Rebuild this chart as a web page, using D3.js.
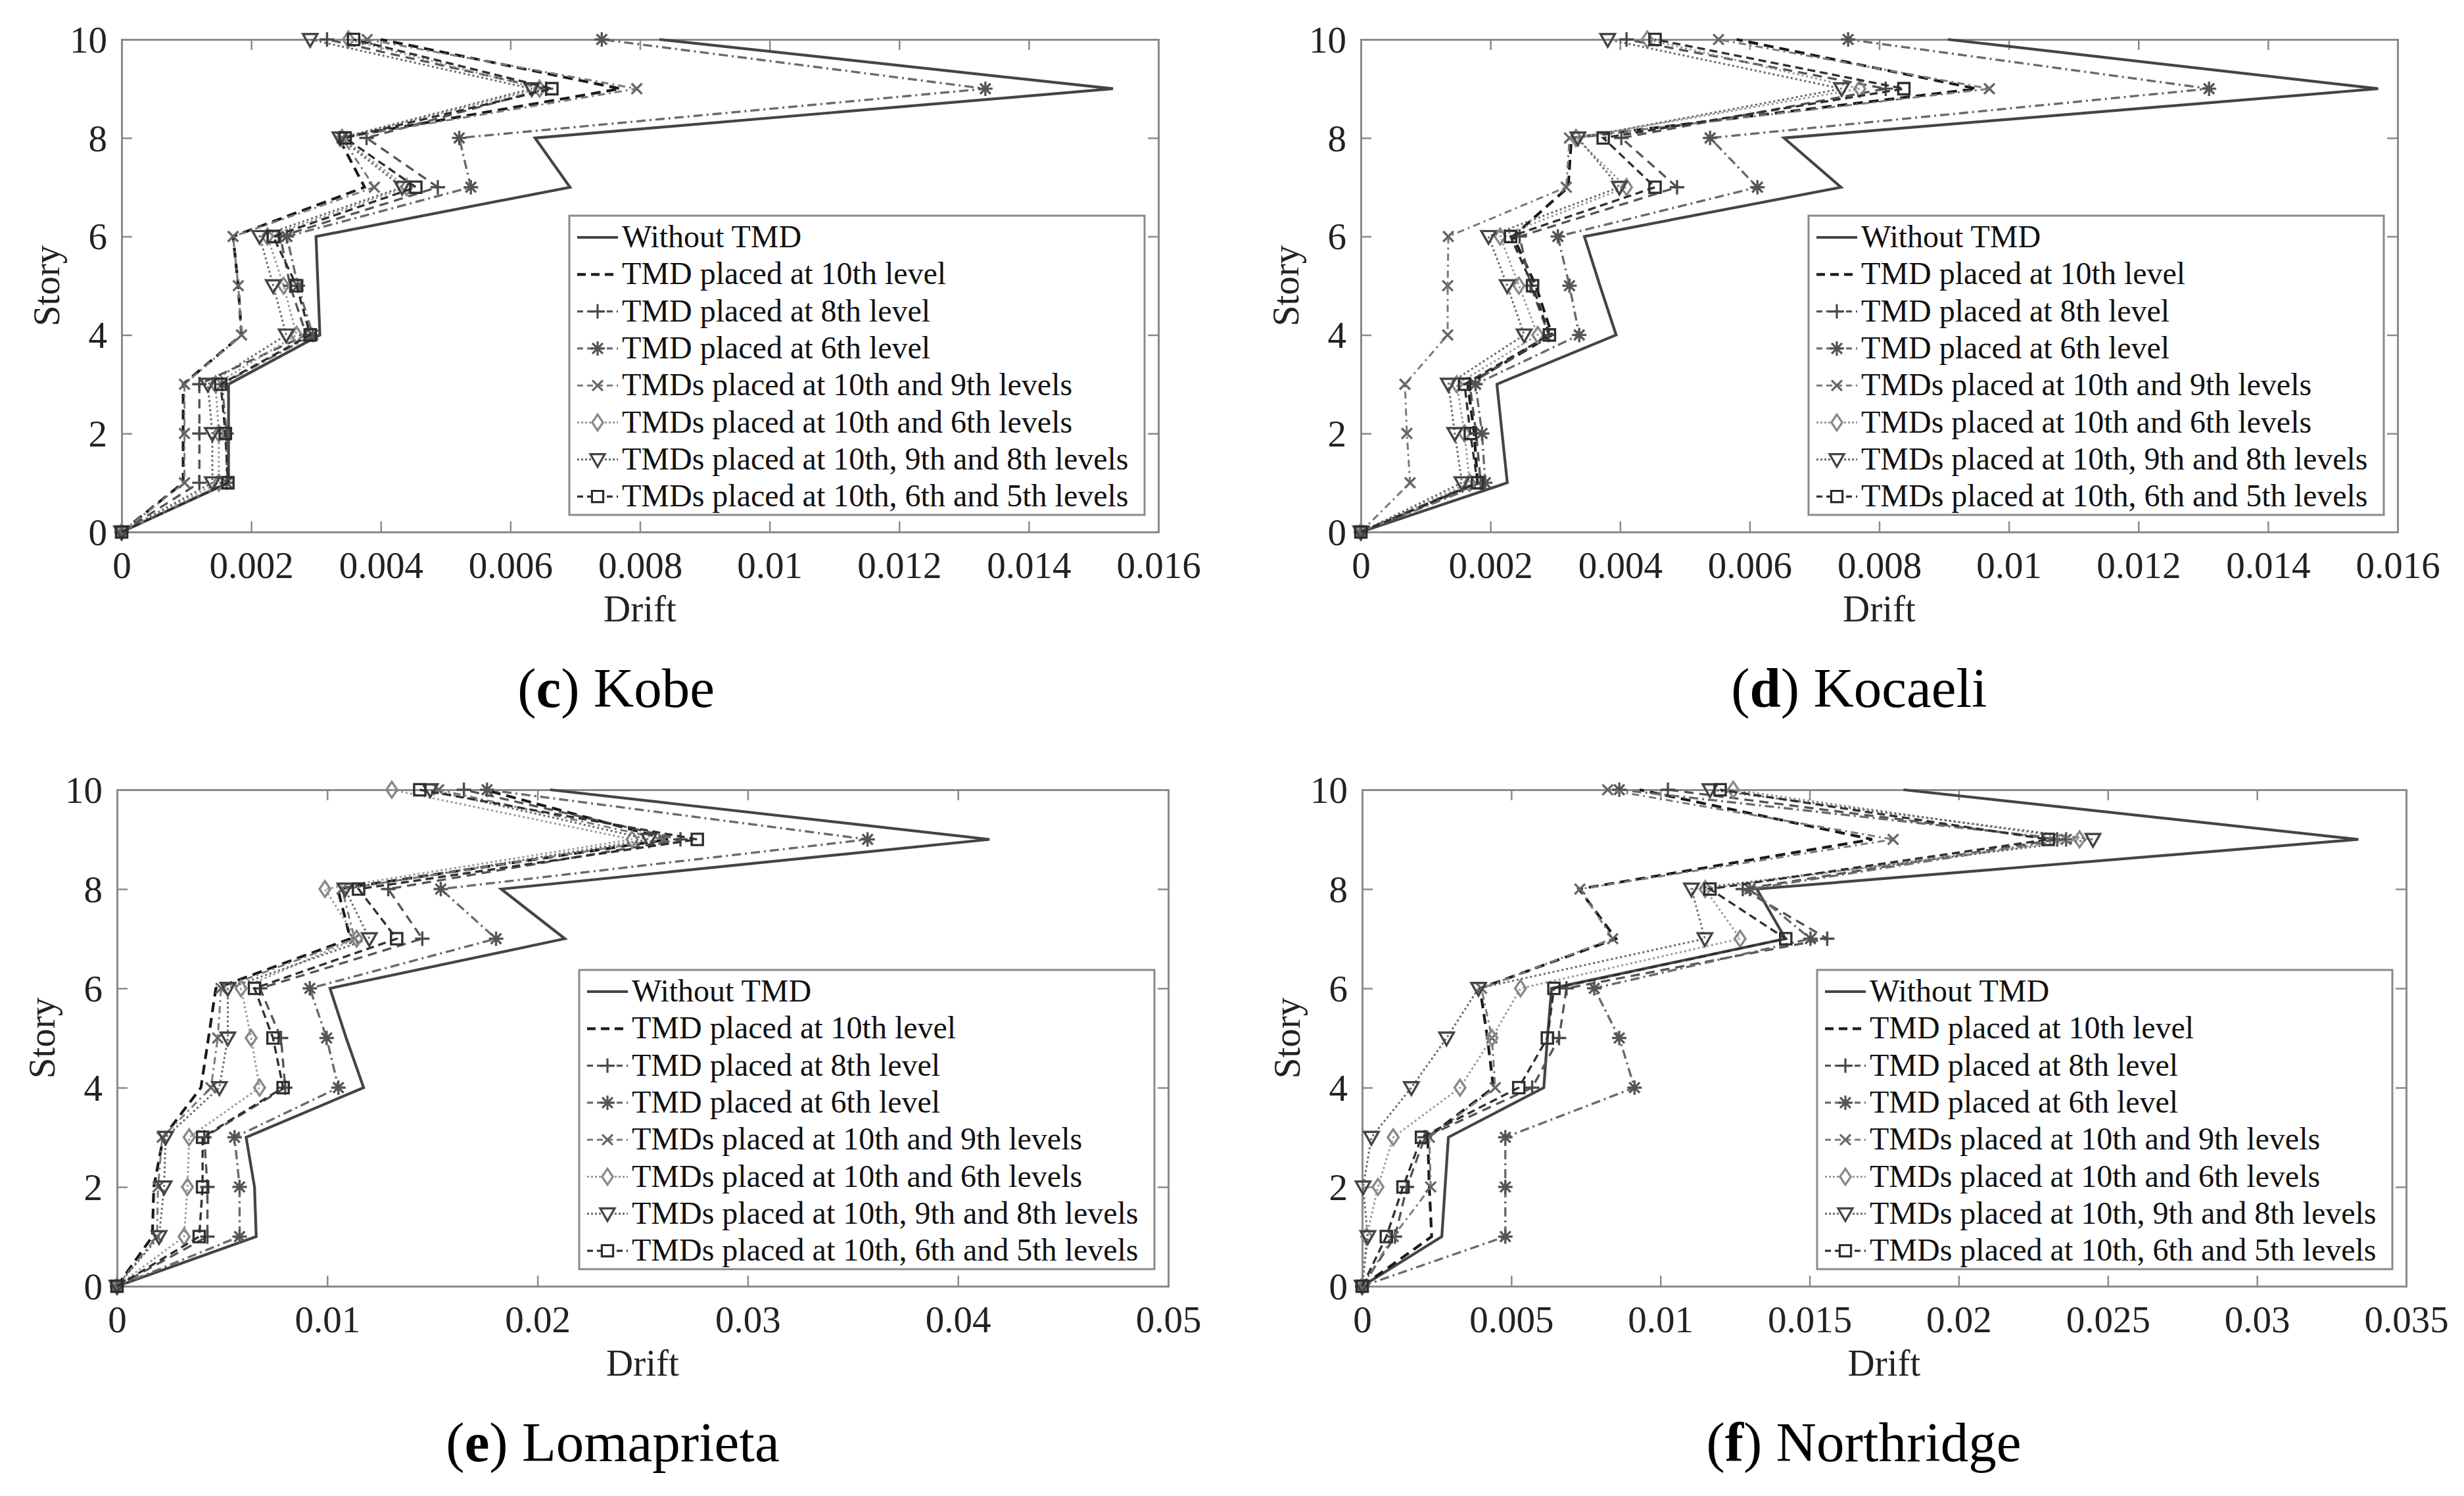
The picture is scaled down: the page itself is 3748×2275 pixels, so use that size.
<!DOCTYPE html>
<html><head><meta charset="utf-8">
<script src="https://cdn.jsdelivr.net/npm/d3@7"></script>
<style>body{margin:0;background:#fff}svg{display:block}</style>
</head><body>
<svg id="chart" width="3748" height="2275"></svg>
<script>
// ---------------- DATA ----------------
const stories = [0,1,2,3,4,5,6,7,8,9,10];
const storyTicks = [0,2,4,6,8,10];
const legendLabels = [
  "Without TMD",
  "TMD placed at 10th level",
  "TMD placed at 8th level",
  "TMD placed at 6th level",
  "TMDs placed at 10th and 9th levels",
  "TMDs placed at 10th and 6th levels",
  "TMDs placed at 10th, 9th and 8th levels",
  "TMDs placed at 10th, 6th and 5th levels"
];
// (c) Kobe
const kobeNone    = [0,0.00165,0.00165,0.00165,0.00306,0.00303,0.0030,0.00692,0.00638,0.0153,0.0083];
const kobeT10     = [0,0.00095,0.00095,0.00095,0.00185,0.0018,0.00172,0.00375,0.00335,0.0077,0.0040];
const kobeT8      = [0,0.0012,0.0012,0.0012,0.00285,0.0026,0.00245,0.00488,0.00378,0.00655,0.00317];
const kobeT6      = [0,0.00162,0.00162,0.00155,0.00295,0.00272,0.00255,0.00539,0.00521,0.01333,0.00741];
const kobeT10_9   = [0,0.00097,0.00097,0.00097,0.00185,0.0018,0.00172,0.0039,0.0034,0.00795,0.00379];
const kobeT10_6   = [0,0.0015,0.0015,0.00145,0.0027,0.0025,0.00225,0.0044,0.0034,0.00645,0.0035];
const kobeT10_9_8 = [0,0.0014,0.0014,0.00133,0.00254,0.00234,0.00213,0.00433,0.00337,0.00633,0.00291];
const kobeT10_6_5 = [0,0.00164,0.0016,0.00153,0.00291,0.0027,0.00234,0.00454,0.00345,0.00664,0.00358];
// (d) Kocaeli
const kocNone    = [0,0.00226,0.00218,0.0021,0.00394,0.00369,0.00345,0.00741,0.00653,0.0157,0.00906];
const kocT10     = [0,0.0018,0.00175,0.00165,0.00295,0.0027,0.00235,0.0032,0.00325,0.0095,0.0058];
const kocT8      = [0,0.00185,0.00178,0.00168,0.0029,0.00262,0.00245,0.00488,0.00402,0.0081,0.0041];
const kocT6      = [0,0.00192,0.00187,0.00177,0.00337,0.00322,0.00304,0.00612,0.00539,0.01309,0.00752];
const kocT10_9   = [0,0.00076,0.00071,0.00068,0.00134,0.00134,0.00135,0.00317,0.00322,0.0097,0.00552];
const kocT10_6   = [0,0.00168,0.0016,0.00148,0.00273,0.00244,0.00215,0.0041,0.00332,0.0077,0.00442];
const kocT10_9_8 = [0,0.00156,0.00145,0.00135,0.00252,0.00226,0.00197,0.00399,0.00335,0.00742,0.00381];
const kocT10_6_5 = [0,0.0018,0.00169,0.0016,0.00291,0.00265,0.00231,0.00454,0.00374,0.00838,0.00454];
// (e) Lomaprieta
const lomNone    = [0,0.00662,0.00654,0.00614,0.01173,0.0109,0.01013,0.0213,0.01827,0.0415,0.0206];
const lomT10     = [0,0.00168,0.00175,0.0022,0.00399,0.00435,0.0047,0.0111,0.0105,0.0262,0.0175];
const lomT8      = [0,0.0043,0.0043,0.00415,0.008,0.0078,0.0068,0.01452,0.0129,0.0268,0.0165];
const lomT6      = [0,0.00583,0.00583,0.00559,0.01053,0.00997,0.00917,0.01803,0.0154,0.0357,0.0176];
const lomT10_9   = [0,0.0019,0.00195,0.00215,0.00447,0.00479,0.00495,0.0113,0.0107,0.026,0.0153];
const lomT10_6   = [0,0.00319,0.00335,0.00343,0.00678,0.00638,0.0059,0.0114,0.00989,0.0245,0.01307];
const lomT10_9_8 = [0,0.002,0.00224,0.00231,0.00487,0.00527,0.00527,0.012,0.01085,0.0253,0.0149];
const lomT10_6_5 = [0,0.00391,0.00407,0.00407,0.0079,0.00742,0.00654,0.0133,0.01149,0.0276,0.0144];
// (f) Northridge
const norNone    = [0,0.00267,0.00278,0.00289,0.00609,0.00621,0.00635,0.01419,0.01323,0.0334,0.01815];
const norT10     = [0,0.00233,0.00225,0.0022,0.0044,0.0042,0.00395,0.00851,0.00727,0.0171,0.0093];
const norT8      = [0,0.0011,0.0015,0.0021,0.0057,0.0066,0.00685,0.01559,0.01276,0.0233,0.01025];
const norT6      = [0,0.0048,0.0048,0.0048,0.00913,0.00862,0.00778,0.01503,0.0130,0.0236,0.00862];
const norT10_9   = [0,0.00104,0.0023,0.00225,0.00446,0.00435,0.004,0.0084,0.0073,0.0178,0.00823];
const norT10_6   = [0,0.00015,0.00053,0.00104,0.00328,0.00435,0.00531,0.01267,0.0115,0.02405,0.01244];
const norT10_9_8 = [0,0.00019,0.00003,0.00031,0.00165,0.00283,0.0039,0.01149,0.01104,0.0245,0.01166];
const norT10_6_5 = [0,0.00081,0.00137,0.00199,0.00525,0.00621,0.00643,0.0142,0.01166,0.023,0.012];
// tick values
const ticksSmall = [0,0.002,0.004,0.006,0.008,0.01,0.012,0.014,0.016];
const ticksLoma  = [0,0.01,0.02,0.03,0.04,0.05];
const ticksNorth = [0,0.005,0.01,0.015,0.02,0.025,0.03,0.035];

// ---------------- LAYOUT / STYLE ----------------
const panels = [
  {letter:"c", name:"Kobe", series:[kobeNone,kobeT10,kobeT8,kobeT6,kobeT10_9,kobeT10_6,kobeT10_9_8,kobeT10_6_5],
   ticks:ticksSmall, box:{l:185,r:1762,t:60,b:809}, capX:937},
  {letter:"d", name:"Kocaeli", series:[kocNone,kocT10,kocT8,kocT6,kocT10_9,kocT10_6,kocT10_9_8,kocT10_6_5],
   ticks:ticksSmall, box:{l:2070,r:3647,t:60,b:809}, capX:2828},
  {letter:"e", name:"Lomaprieta", series:[lomNone,lomT10,lomT8,lomT6,lomT10_9,lomT10_6,lomT10_9_8,lomT10_6_5],
   ticks:ticksLoma, box:{l:178,r:1777,t:1201,b:1956}, capX:932},
  {letter:"f", name:"Northridge", series:[norNone,norT10,norT8,norT6,norT10_9,norT10_6,norT10_9_8,norT10_6_5],
   ticks:ticksNorth, box:{l:2072,r:3660,t:1201,b:1956}, capX:2835}
];
const styles = [
  {stroke:"#444444", w:4.2, dash:null, marker:null},
  {stroke:"#1a1a1a", w:4.2, dash:"15,9", marker:null},
  {stroke:"#555555", w:3.4, dash:"14,9", marker:"plus", mcol:"#4a4a4a"},
  {stroke:"#6a6a6a", w:3.4, dash:"14,6,3,6", marker:"star", mcol:"#555"},
  {stroke:"#7a7a7a", w:3, dash:"11,6,3,6", marker:"cross", mcol:"#666"},
  {stroke:"#9a9a9a", w:3, dash:"3,4", marker:"diamond", mcol:"#888"},
  {stroke:"#686868", w:3, dash:"3,4", marker:"tri", mcol:"#444"},
  {stroke:"#303030", w:3.4, dash:"12,7", marker:"square", mcol:"#2e2e2e"}
];
const FONT = "'Liberation Serif','Times New Roman',serif";
const AXIS = "#8a8a8a";

function markerPath(type){
  const r = 11;
  switch(type){
    case "plus": return `M${-r},0H${r}M0,${-r}V${r}`;
    case "cross": {const a=r*0.72; return `M${-a},${-a}L${a},${a}M${-a},${a}L${a},${-a}`;}
    case "star": {const a=r*0.72; return `M${-r},0H${r}M0,${-r}V${r}M${-a},${-a}L${a},${a}M${-a},${a}L${a},${-a}`;}
    case "diamond": return `M0,${-r*1.1}L${r*0.75},0L0,${r*1.1}L${-r*0.75},0Z`;
    case "tri": return `M${-r},${-r*0.75}L${r},${-r*0.75}L0,${r}Z`;
    case "square": {const a=r*0.78; return `M${-a},${-a}H${a}V${a}H${-a}Z`;}
  }
  return "";
}
const fmt = v => String(+v.toFixed(4));

const svg = d3.select("#chart");
svg.append("rect").attr("width",3748).attr("height",2275).attr("fill","#fff");

panels.forEach(p => {
  const B = p.box;
  const x = d3.scaleLinear().domain([p.ticks[0], p.ticks[p.ticks.length-1]]).range([B.l,B.r]);
  const y = d3.scaleLinear().domain([0,10]).range([B.b,B.t]);
  const g = svg.append("g");
  const TL = 16;

  const axB = g.append("g").attr("transform",`translate(0,${B.b})`)
    .call(d3.axisBottom(x).tickValues(p.ticks).tickFormat(fmt).tickSize(-TL).tickPadding(30));
  const axT = g.append("g").attr("transform",`translate(0,${B.t})`)
    .call(d3.axisTop(x).tickValues(p.ticks).tickFormat("").tickSize(-TL));
  const axL = g.append("g").attr("transform",`translate(${B.l},0)`)
    .call(d3.axisLeft(y).tickValues(storyTicks).tickFormat(d3.format("d")).tickSize(-TL).tickPadding(22));
  const axR = g.append("g").attr("transform",`translate(${B.r},0)`)
    .call(d3.axisRight(y).tickValues(storyTicks).tickFormat("").tickSize(-TL));
  [axB,axT,axL,axR].forEach(a=>{
    a.selectAll("path.domain").attr("stroke",AXIS).attr("stroke-width",3);
    a.selectAll(".tick line").attr("stroke",AXIS).attr("stroke-width",2.5);
    a.selectAll(".tick text").attr("font-family",FONT).attr("font-size",57).attr("fill","#222");
  });
  axB.selectAll(".tick text").attr("dy","0.71em");
  axL.selectAll(".tick text").attr("dy","0.34em");

  const line = d3.line().x(d=>x(d[0])).y(d=>y(d[1]));
  p.series.forEach((vals,i) => {
    const st = styles[i];
    const pts = vals.map((v,k)=>[v,stories[k]]);
    g.append("path").attr("d",line(pts)).attr("fill","none")
      .attr("stroke",st.stroke).attr("stroke-width",st.w)
      .attr("stroke-dasharray",st.dash).attr("stroke-linejoin","miter");
    if(st.marker){
      g.append("g").selectAll("path").data(pts).join("path")
        .attr("transform",d=>`translate(${x(d[0])},${y(d[1])})`)
        .attr("d",markerPath(st.marker)).attr("fill","none")
        .attr("stroke",st.mcol).attr("stroke-width",3.4);
    }
  });

  const LW = 875, LH = 455;
  const lx = B.r - 21 - LW, ly = B.b - 26 - LH;
  const lg = g.append("g").attr("transform",`translate(${lx},${ly})`);
  lg.append("rect").attr("width",LW).attr("height",LH).attr("fill","#fff")
    .attr("stroke",AXIS).attr("stroke-width",3);
  legendLabels.forEach((lab,i)=>{
    const st = styles[i];
    const cy = 33 + i*56.3;
    lg.append("line").attr("x1",12).attr("x2",74).attr("y1",cy).attr("y2",cy)
      .attr("stroke",st.stroke).attr("stroke-width",st.w)
      .attr("stroke-dasharray", i===1 ? "13,8" : (st.dash ? (i>=5&&i<=6 ? "3,3" : "9,6") : null));
    if(st.marker){
      lg.append("path").attr("transform",`translate(43,${cy})`).attr("d",markerPath(st.marker))
        .attr("fill","#fff").attr("stroke",st.mcol).attr("stroke-width",3.2);
    }
    lg.append("text").attr("x",80).attr("y",cy+15).text(lab)
      .attr("font-family",FONT).attr("font-size",48).attr("fill","#111");
  });

  g.append("text").attr("x",(B.l+B.r)/2).attr("y",B.b+136).attr("text-anchor","middle")
    .attr("font-family",FONT).attr("font-size",57).attr("fill","#222").text("Drift");
  g.append("text").attr("transform",`translate(${B.l-95},${(B.t+B.b)/2}) rotate(-90)`)
    .attr("text-anchor","middle").attr("font-family",FONT).attr("font-size",57).attr("fill","#222").text("Story");

  const cap = g.append("text").attr("x",p.capX).attr("y",B.b+266).attr("text-anchor","middle")
    .attr("font-family",FONT).attr("font-size",85).attr("fill","#000");
  cap.append("tspan").text("(");
  cap.append("tspan").attr("font-weight","bold").text(p.letter);
  cap.append("tspan").text(") " + p.name);
});
</script>
</body></html>
